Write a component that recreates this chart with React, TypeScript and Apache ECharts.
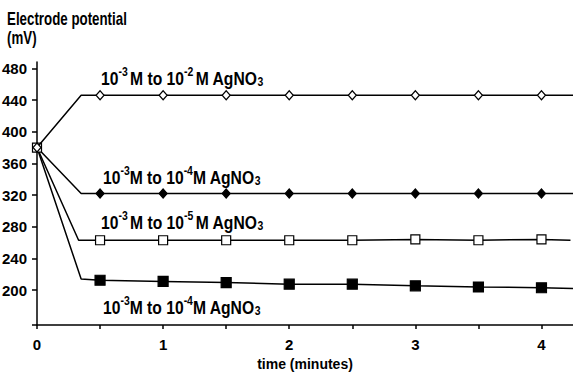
import React, { useEffect, useRef } from "react";
import * as echarts from "echarts";

const markerTimes = [0.5, 1, 1.5, 2, 2.5, 3, 3.5, 4];
const startTime = 0;
const startValue = 380;

const seriesNames = [
  "1e-3 M to 1e-2 M AgNO3",
  "1e-3 M to 1e-4 M AgNO3 (a)",
  "1e-3 M to 1e-5 M AgNO3",
  "1e-3 M to 1e-4 M AgNO3 (b)",
];
const kinkTimes = [0.35, 0.35, 0.33, 0.35];
const kinkValues = [446, 322, 263, 214];
const endValues = [446, 322, 263, 202];
const endTimes = [4.25, 4.25, 4.23, 4.25];
const valuesA = [446, 446, 446, 446, 446, 446, 446, 446];
const valuesB = [322, 322, 322, 322, 322, 322, 322, 322];
const valuesC = [263, 263, 263, 263, 263, 264, 263, 264];
const valuesD = [212.5, 211, 209.5, 207.5, 207.5, 205.5, 204, 203];
const seriesValues = [valuesA, valuesB, valuesC, valuesD];

const yTicks = [156, 200, 240, 280, 320, 360, 400, 440, 480];
const yLabels = [200, 240, 280, 320, 360, 400, 440, 480];

const FONT = "'Liberation Sans', Arial, Helvetica, sans-serif";

export default function App() {
  const ref = useRef<HTMLDivElement>(null);
  useEffect(() => {
    if (!ref.current) return;
    const chart = echarts.init(ref.current, null, { renderer: "svg" });

    const markerStyles = [
      { symbol: "diamond", size: [8, 9], color: "#fff", border: "#000" },
      { symbol: "diamond", size: [8, 9], color: "#000", border: "#000" },
      { symbol: "rect", size: [9, 9], color: "#fff", border: "#000" },
      { symbol: "rect", size: [10, 10], color: "#000", border: "#000" },
    ];
    const startShows = [true, false, true, false];

    const series = seriesValues.map((vals, i) => {
      const m = markerStyles[i];
      const data: any[] = [];
      data.push(
        startShows[i]
          ? { value: [startTime, startValue] }
          : { value: [startTime, startValue], symbol: "none" }
      );
      data.push({ value: [kinkTimes[i], kinkValues[i]], symbol: "none" });
      markerTimes.forEach((t, j) => data.push({ value: [t, vals[j]] }));
      data.push({ value: [endTimes[i], endValues[i]], symbol: "none" });
      return {
        name: seriesNames[i],
        type: "line",
        data,
        symbol: m.symbol,
        symbolSize: m.size,
        showAllSymbol: true,
        lineStyle: { color: "#000", width: 1.5 },
        itemStyle: { color: m.color, borderColor: m.border, borderWidth: 1.2 },
        z: i === 0 ? 5 : i === 2 ? 4 : 3,
        silent: true,
      };
    });

    const main = { fontFamily: FONT, fontWeight: "bold", fontSize: 18, lineHeight: 22, verticalAlign: "bottom", fill: "#000" };
    const sup = { fontFamily: FONT, fontWeight: "bold", fontSize: 12, lineHeight: 22, verticalAlign: "top", fill: "#000" };
    const sub = { fontFamily: FONT, fontWeight: "bold", fontSize: 12, lineHeight: 16, verticalAlign: "bottom", fill: "#000" };
    const thin = { fontFamily: FONT, fontWeight: "bold", fontSize: 10, lineHeight: 22, verticalAlign: "bottom", fill: "#000" };
    const rich = { n: main, p: sup, s: sub, t: thin };

    const label = (x: number, y: number, text: string) => ({
      type: "text",
      x,
      y,
      scaleX: 0.87,
      silent: true,
      style: { text, rich, fill: "#000" },
    });

    chart.setOption({
      animation: false,
      backgroundColor: "#fff",
      grid: { left: 37, right: 0, top: 62, bottom: 48, containLabel: false, outerBoundsMode: "none" },
      xAxis: {
        type: "value",
        min: 0,
        max: 4.25,
        interval: 0.5,
        name: "time (minutes)",
        nameLocation: "middle",
        nameGap: 32,
        nameTextStyle: { fontFamily: FONT, fontWeight: "bold", fontSize: 14, color: "#000" },
        axisLine: { lineStyle: { color: "#000", width: 1.5 } },
        axisTick: { show: true, length: 4, lineStyle: { color: "#000", width: 1.5 } },
        axisLabel: {
          margin: 12,
          fontFamily: FONT,
          fontWeight: "bold",
          fontSize: 15,
          color: "#000",
          showMaxLabel: false,
          formatter: (v: number) => (Number.isInteger(v) ? String(v) : ""),
        },
        splitLine: { show: false },
      },
      yAxis: {
        type: "value",
        min: 156,
        max: 488,
        axisLine: { show: true, lineStyle: { color: "#000", width: 1.5 } },
        axisTick: { show: true, length: 5, customValues: yTicks, lineStyle: { color: "#000", width: 1.5 } },
        axisLabel: {
          margin: 10,
          customValues: yLabels,
          fontFamily: FONT,
          fontWeight: "bold",
          fontSize: 15,
          color: "#000",
        },
        splitLine: { show: false },
      },
      graphic: [
        {
          type: "text",
          x: 7,
          y: 9,
          scaleX: 0.74,
          silent: true,
          style: {
            text: "Electrode potential\n(mV)",
            fontFamily: FONT,
            fontWeight: "bold",
            fontSize: 18,
            lineHeight: 19,
            fill: "#000",
          },
        },
        label(101, 66, "{n|10}{p|-3}{t| }{n|M to 10}{p|-2}{t| }{n|M AgNO}{s|3}"),
        label(103, 165, "{n|10}{p|-3}{n|M to 10}{p|-4}{n|M AgNO}{s|3}"),
        label(101, 210, "{n|10}{p|-3}{t| }{n|M to 10}{p|-5}{t| }{n|M AgNO}{s|3}"),
        label(103, 295, "{n|10}{p|-3}{n|M to 10}{p|-4}{n|M AgNO}{s|3}"),
      ],
      series,
    });
    return () => chart.dispose();
  }, []);
  return <div ref={ref} style={{ width: 573, height: 373, position: "absolute", left: 0, top: 0 }} />;
}
